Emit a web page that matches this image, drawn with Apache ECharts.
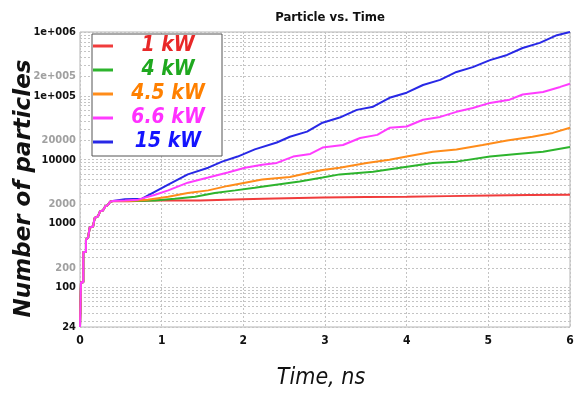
<!DOCTYPE html>
<html><head><meta charset="utf-8">
<script src="https://cdn.jsdelivr.net/npm/echarts@6/dist/echarts.min.js"></script>
<style>html,body{margin:0;padding:0;background:#fff}#c{width:575px;height:403px}</style>
</head><body><div id="c"></div>
<script>
// ---- data ----
const seriesNames = ['1 kW', '4 kW', '4.5 kW', '6.6 kW', '15 kW'];
const xTicks = [0, 1, 2, 3, 4, 5, 6];
const yMajorLabels = [24, 100, 1000, 10000, 100000, 1000000];
const yMinorLabels = [200, 2000, 20000, 200000];

// common early staircase (time in ns, number of particles)
const earlyTime  = [0, 0.012, 0.012, 0.04, 0.04, 0.073, 0.073, 0.098, 0.12, 0.16, 0.18, 0.22, 0.245, 0.28, 0.31, 0.34, 0.37, 0.40];
const earlyCount = [24, 24, 120, 120, 360, 360, 560, 600, 870, 900, 1230, 1300, 1550, 1600, 1860, 1950, 2200, 2250];

const time1kW  = [0.6, 0.88, 1.2, 1.47, 2.0, 2.24, 2.97, 3.5, 4.0, 4.5, 5.02, 5.5, 6.0];
const count1kW = [2240, 2290, 2290, 2290, 2400, 2455, 2570, 2600, 2630, 2690, 2750, 2790, 2820];

const time4kW  = [0.6, 0.92, 1.16, 1.41, 1.65, 1.90, 2.14, 2.29, 2.69, 2.97, 3.18, 3.59, 3.92, 4.32, 4.61, 5.02, 5.35, 5.67, 6.0];
const count4kW = [2250, 2300, 2450, 2630, 3020, 3310, 3630, 3890, 4570, 5250, 5890, 6460, 7500, 8910, 9330, 11200, 12300, 13300, 15800];

const time45kW  = [0.6, 0.83, 1.08, 1.32, 1.57, 1.81, 2.02, 2.23, 2.57, 2.82, 2.97, 3.18, 3.51, 3.79, 4.0, 4.32, 4.61, 4.93, 5.23, 5.54, 5.79, 6.0];
const count45kW = [2250, 2370, 2630, 3020, 3310, 3890, 4370, 4900, 5370, 6310, 6920, 7500, 8910, 10000, 11200, 13300, 14500, 17000, 19950, 22900, 26300, 31600];

const time66kW  = [0.55, 0.71, 0.92, 1.08, 1.32, 1.57, 1.81, 2.02, 2.23, 2.41, 2.61, 2.82, 2.97, 3.22, 3.43, 3.64, 3.79, 4.0, 4.2, 4.41, 4.61, 4.81, 5.02, 5.26, 5.42, 5.67, 5.88, 6.0];
const count66kW = [2300, 2370, 2820, 3310, 4370, 5250, 6310, 7500, 8320, 8910, 11200, 12300, 15500, 17000, 21900, 24500, 31600, 33100, 42200, 46800, 56200, 64600, 77600, 87100, 105000, 115000, 138000, 155000];

const time15kW  = [0.55, 0.76, 0.92, 1.08, 1.32, 1.57, 1.74, 1.93, 2.14, 2.41, 2.57, 2.78, 2.97, 3.18, 3.39, 3.59, 3.79, 4.0, 4.2, 4.41, 4.61, 4.81, 5.02, 5.23, 5.42, 5.63, 5.84, 6.0];
const count15kW = [2400, 2450, 3160, 4070, 5890, 7500, 9330, 11200, 14500, 18600, 22900, 27500, 38000, 45700, 60300, 67600, 93300, 112000, 148000, 178000, 237000, 282000, 363000, 437000, 562000, 676000, 891000, 1000000];

const lineColors = ['#f03c3c', '#2db42d', '#ff8c1a', '#ff3cff', '#2828e6'];
const textColors = ['#e82828', '#1fa81f', '#ff8000', '#ff30ff', '#1414ff'];

// ---- build ----
function pairs(t, v) {
  const out = earlyTime.map((x, i) => [x, earlyCount[i]]);
  t.forEach((x, i) => out.push([x, v[i]]));
  return out;
}
const allTimes = [time1kW, time4kW, time45kW, time66kW, time15kW];
const allCounts = [count1kW, count4kW, count45kW, count66kW, count15kW];

function fmt(v) {
  v = Math.round(v);
  if (v >= 100000) {
    const e = Math.floor(Math.log10(v) + 1e-9);
    const m = Math.round(v / Math.pow(10, e));
    return m + 'e+00' + e;
  }
  return String(v);
}
const near = (v, list) => list.some(x => Math.abs(v - x) / x < 0.01);

const FN = '"DejaVu Sans Condensed", "Liberation Sans Narrow", "Liberation Sans", sans-serif';

const drawOrder = [4, 0, 1, 2, 3];
const series = drawOrder.map(i => ({
  name: seriesNames[i],
  type: 'line',
  data: pairs(allTimes[i], allCounts[i]),
  showSymbol: false,
  symbol: 'none',
  lineStyle: { width: 2, color: lineColors[i] },
  itemStyle: { color: lineColors[i] },
  animation: false,
  z: 3
}));

const chart = echarts.init(document.getElementById('c'), null, { renderer: 'canvas' });
chart.setOption({
  animation: false,
  backgroundColor: '#fff',
  title: {
    text: 'Particle vs. Time',
    left: 325, top: 6, textAlign: 'center',
    textStyle: { fontFamily: FN, fontWeight: 'bold', fontSize: 13, color: '#111' }
  },
  grid: { left: 80, right: 5, top: 32, bottom: 76, containLabel: false, outerBoundsMode: 'none',
    show: true, borderColor: '#b4b4b4', borderWidth: 1, backgroundColor: 'transparent' },
  legend: {
    orient: 'vertical',
    left: 92, top: 34,
    padding: [0, 4, 2, 1],
    itemGap: 0,
    itemWidth: 20, itemHeight: 3,
    icon: 'rect',
    backgroundColor: '#fff',
    borderColor: '#555', borderWidth: 1,
    formatter: '{a|{name}}',
    textStyle: {
      fontFamily: FN, fontStyle: 'italic', fontWeight: 'bold', fontSize: 21,
      rich: { a: { width: 100, align: 'center', height: 24, lineHeight: 24, fontFamily: FN, fontStyle: 'italic', fontWeight: 'bold', fontSize: 21 } }
    },
    data: seriesNames.map((n, i) => ({ name: n, itemStyle: { color: lineColors[i] }, textStyle: { color: textColors[i] } }))
  },
  xAxis: {
    type: 'value', min: 0, max: 6, interval: 1,
    name: 'Time, ns', nameLocation: 'middle', nameGap: 40, nameMoveOverlap: false,
    nameTextStyle: { fontFamily: FN, fontStyle: 'italic', fontSize: 23, color: '#111', padding: [0, 8, 0, 0] },
    axisLine: { show: false }, axisTick: { show: false },
    axisLabel: { fontFamily: FN, fontWeight: 'bold', fontSize: 12, color: '#111', margin: 8,
      formatter: v => xTicks.includes(v) ? String(v) : '' },
    splitLine: { show: true, lineStyle: { color: '#c4c4c4', type: [2, 2], width: 1 } }
  },
  yAxis: [{
    type: 'log', logBase: 10, min: 24, max: 1000000,
    name: 'Number of particles', nameLocation: 'middle', nameGap: 44, nameRotate: 90, nameMoveOverlap: false,
    nameTextStyle: { fontFamily: '"DejaVu Sans", sans-serif', fontStyle: 'italic', fontWeight: 'bold', fontSize: 23, color: '#111', padding: [0, 18, 0, 0] },
    axisLine: { show: false }, axisTick: { show: false },
    axisLabel: { fontFamily: FN, fontWeight: 'bold', fontSize: 11, color: '#111', margin: 4, showMinLabel: true, showMaxLabel: true,
      formatter: v => near(v, yMajorLabels) ? fmt(v) : '' },
    splitLine: { show: true, lineStyle: { color: '#c4c4c4', type: [2, 2], width: 1 } },
    minorTick: { show: false, splitNumber: 9 },
    minorSplitLine: { show: true, lineStyle: { color: '#c4c4c4', type: [2, 2], width: 1 } }
  }, {
    type: 'log', logBase: 10, min: 12, max: 500000, position: 'left',
    axisLine: { show: false }, axisTick: { show: false }, splitLine: { show: false },
    axisLabel: { fontFamily: FN, fontWeight: 'bold', fontSize: 11, color: '#a0a0a0', margin: 4, showMinLabel: false, showMaxLabel: false,
      formatter: v => near(v * 2, yMinorLabels) ? fmt(v * 2) : '' }
  }],
  series: series
});
</script></body></html>
